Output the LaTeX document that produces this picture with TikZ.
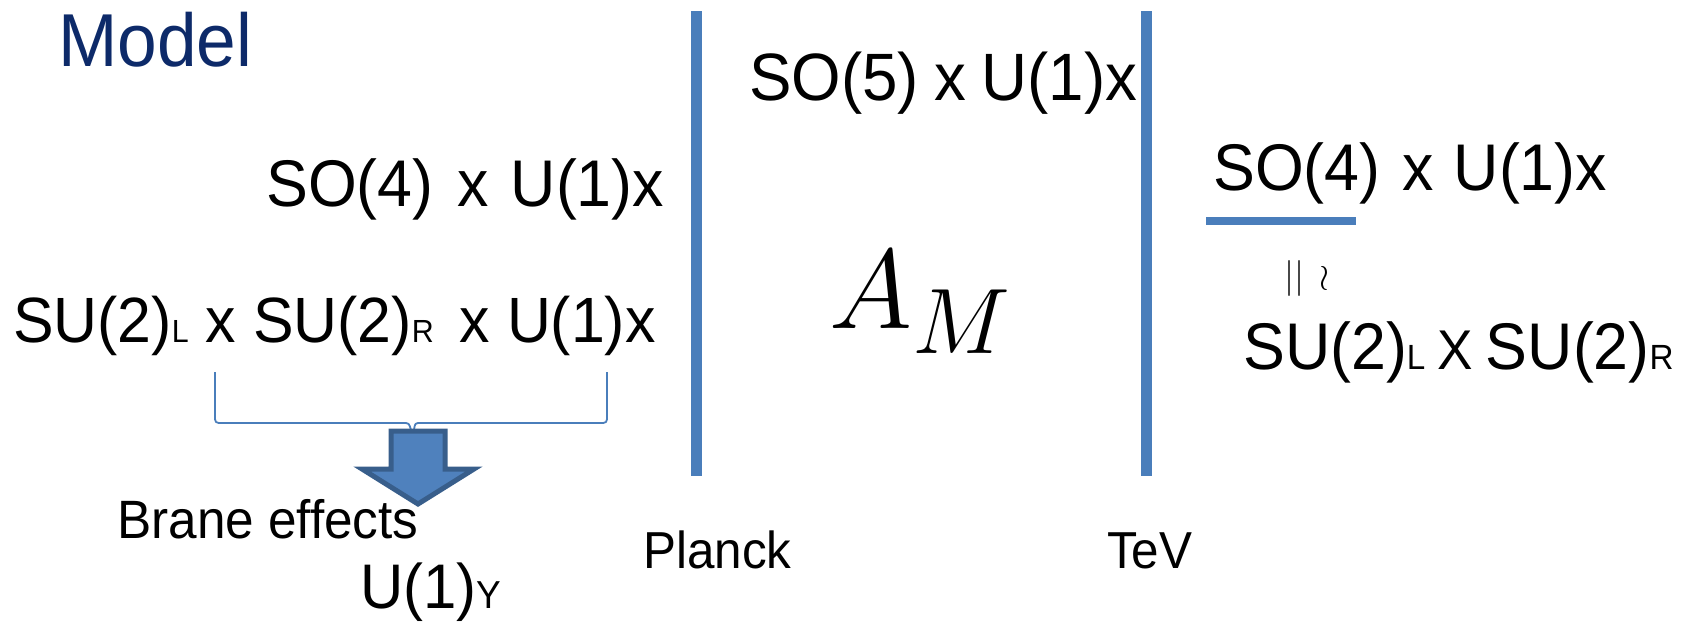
\RequirePackage{fix-cm}
\documentclass[tikz,border=0pt]{standalone}
\usepackage[no-math]{fontspec}
\setmainfont[FakeStretch=0.95]{Liberation Sans}
\definecolor{braneblue}{RGB}{74,126,187}
\definecolor{titlenavy}{RGB}{13,42,105}
\definecolor{arrowfill}{RGB}{79,129,189}
\definecolor{arrowedge}{RGB}{56,94,139}
\newcommand\fsz[1]{\fontsize{#1}{#1}\selectfont}
\newcommand\lowsub[2]{{\fsz{#1}#2}}

\begin{document}
\begin{tikzpicture}[x=1pt,y=-1pt,
  every node/.style={inner sep=0pt,anchor=base west},
  grp/.style={font=\fsz{66}},
  scl/.style={font=\fsz{52}},
  ttl/.style={font=\fsz{75},text=titlenavy},
  wall/.style={draw=braneblue,line width=11pt},
  brace/.style={draw=braneblue,line width=1.8pt,line join=round},
  blockarr/.style={fill=arrowfill,draw=arrowedge,line width=5pt,line join=miter}
]
\useasboundingbox (0,0) rectangle (1685,621);
% ================= branes =================
\coordinate (planckTop) at (696,11);
\coordinate (planckBot) at (696,476);
\coordinate (tevTop) at (1146,11);
\coordinate (tevBot) at (1146,476);
\draw[wall] (planckTop) -- (planckBot);
\draw[wall] (tevTop) -- (tevBot);
\node[scl] (planck) at (643,568) {Planck};
\node[scl] (tev) at (1107,568) {TeV};
% ================= left: Planck brane =================
\node[ttl] (model) at (58,66) {Model};
\node[grp] (soFourL) at (266,206) {SO(4)\hspace{24pt}x\hspace{22pt}U(1)x};
\node[font=\fsz{64}] (suL) at (13,342)
  {SU(2)\lowsub{32}{L} x SU(2)\lowsub{32}{R}\hspace{26pt}x U(1)x};
% bracket and block arrow
\draw[brace] (215,372) -- (215,415) .. controls (215,423) .. (223,423)
  -- (403,423) .. controls (409,423) .. (411,430);
\draw[brace] (607,372) -- (607,415) .. controls (607,423) .. (599,423)
  -- (421,423) .. controls (415,423) .. (414,430);
\node[font=\fsz{54}] (brane) at (117,538) {Brane effects};
\draw[blockarr] (391,431) -- (445,431) -- (445,469) -- (474,469) -- (418,504)
  -- (362,469) -- (391,469) -- cycle;
\node[font=\fsz{63}] (uOneY) at (360,608) {U(1)\lowsub{39}{Y}};
% ================= bulk =================
\node[font=\fsz{67}] (soFive) at (749,100) {SO(5)\hspace{16pt}x\hspace{15pt}U(1)x};
\node (am) at (829,328) {\fsz{113}$A$\raisebox{-25pt}{\fsz{93}$M$}};
% ================= right: TeV brane =================
\node[grp] (soFourR) at (1213,190) {SO(4)\hspace{22pt}x\hspace{20pt}U(1)x};
\coordinate (barL) at (1206,221);
\coordinate (barR) at (1356,221);
\draw[draw=braneblue,line width=8pt] (barL) -- (barR);
\node[anchor=center] (iso) at (1307,278) {\fsz{36}$||\hspace{15pt}\wr$};
\node[grp] (suR) at (1243,369)
  {SU(2)\lowsub{35}{L}\hspace{12pt}\lowsub{56}{X}\hspace{13pt}SU(2)\lowsub{35}{R}};
\end{tikzpicture}
\end{document}
